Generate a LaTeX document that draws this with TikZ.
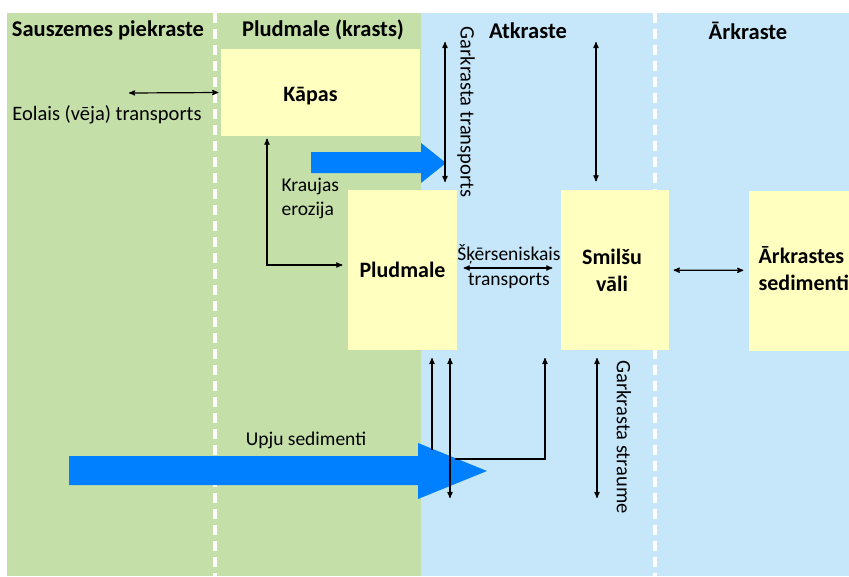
\documentclass[tikz,border=0pt]{standalone}
\usepackage{fontspec}
\setmainfont{Carlito}
\usepackage{xcolor}
\usetikzlibrary{arrows}

\definecolor{landgreen}{RGB}{196,223,168}
\definecolor{seablue}{RGB}{198,231,249}
\definecolor{sandyellow}{RGB}{255,255,192}
\definecolor{flowblue}{RGB}{0,128,255}

\begin{document}
\begin{tikzpicture}[x=1pt,y=-1pt,
  zone/.style={font=\fontsize{22.5}{26}\selectfont\bfseries},
  box/.style={fill=sandyellow,inner sep=0pt},
  boxtext/.style={font=\fontsize{22}{27}\selectfont\bfseries,align=center},
  note/.style={font=\fontsize{19.5}{24}\selectfont,align=left,inner sep=1pt},
  bignote/.style={note,font=\fontsize{20.5}{24}\selectfont},
  zoneline/.style={white,line width=3.5pt,dash pattern=on 10pt off 6pt}]
\useasboundingbox (0,0) rectangle (849,576);
\clip (0,0) rectangle (849,576);
\begin{scope}[>=stealth',line width=1.2pt]

    % zones
    \fill[landgreen] (7,13) rectangle (421,576);
    \fill[seablue] (421,13) rectangle (849,576);
    \draw[zoneline] (215,13) -- (215,576);
    \draw[zoneline] (655,13) -- (655,576);
    \node[zone] (land) at (108,30) {Sauszemes piekraste};
    \node[zone] (shore) at (323,30) {Pludmale (krasts)};
    \node[zone] (near) at (528,31) {Atkraste};
    \node[zone] (off) at (748,31) {Ārkraste};

    % boxes
    \node[box,minimum width=199pt,minimum height=87pt] (kapas) at (320.5,92.5) {};
    \node[boxtext] (kapastxt) at ([xshift=-10pt,yshift=-4pt]kapas.center) {Kāpas};
    \node[box,boxtext,minimum width=109pt,minimum height=160pt] (pludmale) at (402.5,270) {Pludmale};
    \node[box,minimum width=108pt,minimum height=160pt] (smilsu) at (615,270) {};
    \node[boxtext] (smilsutxt) at ([xshift=-3pt]smilsu.center) {Smilšu\\vāli};
    \node[box,minimum width=108pt,minimum height=160pt] (arkr) at (803,270.5) {};
    \node[boxtext,anchor=west,align=left,inner sep=0pt] (arkrtxt) at (758,269) {Ārkrastes\\sedimenti};

    % big flows
    \fill[flowblue] (311,152) -- (421,152) -- (421,143) -- (446,163) -- (421,183)
        -- (421,173) -- (311,173) -- cycle;
    \fill[flowblue] (69,456) -- (418,456) -- (418,443) -- (487,471) -- (418,499)
        -- (418,485) -- (69,485) -- cycle;
    \node[note] (upju) at (306,440) {Upju sedimenti};

    % transports
    \coordinate (eol) at (129,93);
    \draw[<->,shorten >=2pt] (eol) -- (kapas.west);
    \node[bignote] (eoltxt) at (107,115) {Eolais (vēja) transports};

    \coordinate (gt1) at (445,42);
    \coordinate (gt2) at (445,182);
    \draw[<->] (gt1) -- (gt2);
    \node[bignote,rotate=-90] (gttxt) at (466,112) {Garkrasta transports};
    \coordinate (va) at (596,42);
    \draw[<->,shorten >=8pt] (va) -- (va |- smilsu.north);

    \coordinate (kr) at ([xshift=-53.5pt]kapas.south);
    \draw[<->,shorten <=2pt,shorten >=5pt] (kr) |- ([yshift=5pt]pludmale.west);
    \node[note,anchor=west] (krtxt) at (280,198) {Kraujas\\erozija};

    \draw[<->,shorten <=6pt,shorten >=8pt] ([yshift=2pt]pludmale.east) -- ([yshift=2pt]smilsu.west)
        node[midway,yshift=14pt,note] (sk1) {Šķērseniskais}
        node[midway,yshift=-13pt,note] (sk2) {transports};
    \draw[<->,shorten <=4pt,shorten >=5pt] (smilsu) -- (arkr);

    % lower links
    \coordinate (lo1) at (432,450);
    \draw[->] (lo1) -- ++(0,-92);
    \coordinate (lo2) at (450,358);
    \draw[<->] (lo2) -- (450,498);
    \coordinate (lo3) at (455,459);
    \draw[->] (lo3) -| (545,358);
    \coordinate (gs) at (597,358);
    \draw[<->] (gs) -- (597,498);
    \node[bignote,rotate=-90] (gstxt) at (624,437) {Garkrasta straume};

\end{scope}
\end{tikzpicture}
\end{document}
